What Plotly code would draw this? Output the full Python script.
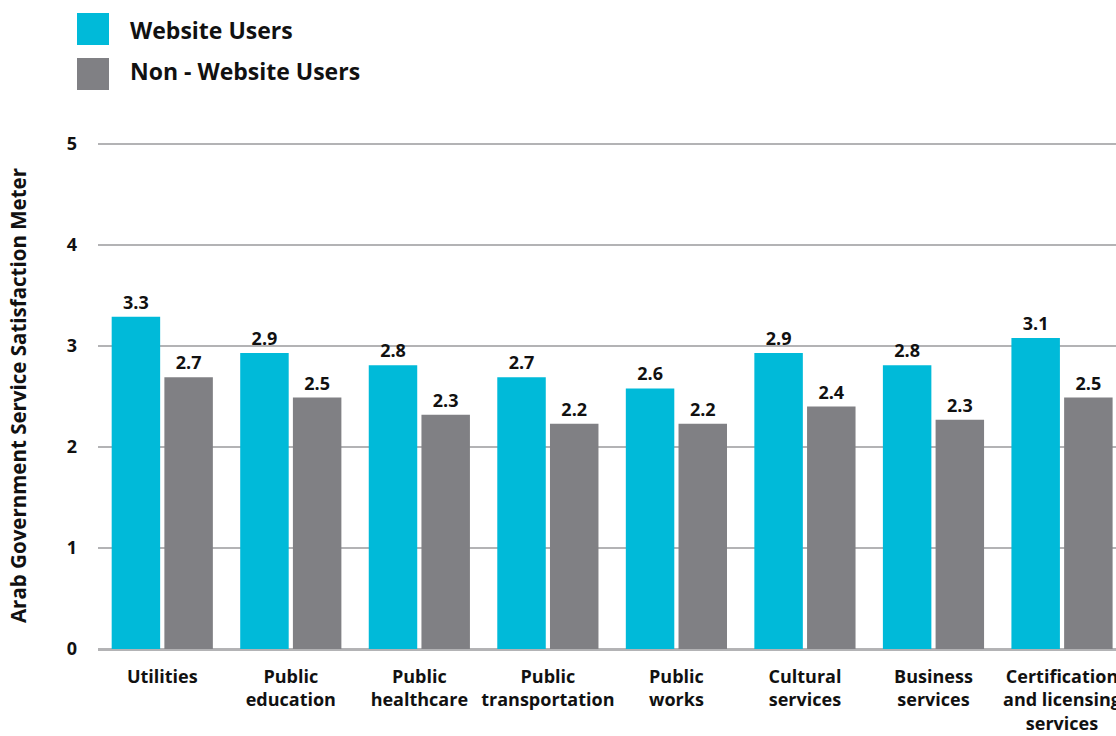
import plotly.graph_objects as go

categories = ["Utilities", "Public<br>education", "Public<br>healthcare", "Public<br>transportation",
              "Public<br>works", "Cultural<br>services", "Business<br>services",
              "Certification<br>and licensing<br>services"]
website_users = [3.29, 2.93, 2.81, 2.69, 2.58, 2.93, 2.81, 3.08]
non_website_users = [2.69, 2.49, 2.32, 2.23, 2.23, 2.40, 2.27, 2.49]
series_names = ["Website Users", "Non - Website Users"]
colors = ["#00BAD9", "#808084"]
y_ticks = [0, 1, 2, 3, 4, 5]

FONT = "Open Sans"
x_idx = list(range(len(categories)))

# plot area in pixels
PL, PR, PT, PB = 98, 1116, 142, 649
PW, PH = PR - PL, PB - PT

fig = go.Figure()
for name, vals, col in zip(series_names, [website_users, non_website_users], colors):
    fig.add_trace(go.Bar(
        x=x_idx, y=vals, name=name, marker=dict(color=col, line=dict(width=0)),
        texttemplate="%{y:.1f}", textposition="outside", cliponaxis=False,
        textfont=dict(family=FONT, size=18, color="#111111", weight="bold"),
        showlegend=False,
    ))

# legend boxes drawn as shapes
legend_box_top = [13, 58]
legend_text_mid = [30, 71]
for i, (name, col) in enumerate(zip(series_names, colors)):
    y0 = legend_box_top[i]
    fig.add_shape(type="rect", xref="paper", yref="paper",
                  x0=(77 - PL) / PW, x1=(109 - PL) / PW,
                  y0=(PB - (y0 + 32)) / PH, y1=(PB - y0) / PH,
                  fillcolor=col, line=dict(width=0))
    fig.add_annotation(xref="paper", yref="paper", x=(128 - PL) / PW, y=(PB - legend_text_mid[i]) / PH,
                       text="<b>%s</b>" % name, showarrow=False, xanchor="left", yanchor="middle",
                       font=dict(family=FONT, size=23, color="#111111"))

fig.update_layout(
    width=1116, height=736, autosize=False,
    margin=dict(l=PL, r=1116 - PR, t=PT, b=736 - PB, pad=0, autoexpand=False),
    paper_bgcolor="white", plot_bgcolor="white",
    barmode="group", bargap=0.18, bargroupgap=0.08,
    font=dict(family=FONT, color="#111111"),
    xaxis=dict(
        tickmode="array", tickvals=x_idx, ticktext=["<b>%s</b>" % c for c in categories],
        range=[-0.5, 7.42], showgrid=False, showline=False, ticks="",
        tickfont=dict(family=FONT, size=18, color="#111111"),
        ticklabelstandoff=15, ticklabeloverflow="allow", automargin=False,
    ),
    yaxis=dict(
        range=[0, 5.02], tickvals=y_ticks, showgrid=True, gridcolor="#B3B3B5", gridwidth=2,
        zeroline=True, zerolinecolor="#B3B3B5", zerolinewidth=3,
        ticks="", showline=False, automargin=False,
        tickfont=dict(family=FONT, size=18, color="#111111", weight="bold"),
        ticklabelstandoff=20,
        title=dict(text="<b>Arab Government Service Satisfaction Meter</b>",
                   font=dict(family=FONT, size=20.5, color="#111111"), standoff=34),
    ),
)

fig.write_html("out.html", config={"displayModeBar": False},
               post_script="document.body.style.margin='0';")
